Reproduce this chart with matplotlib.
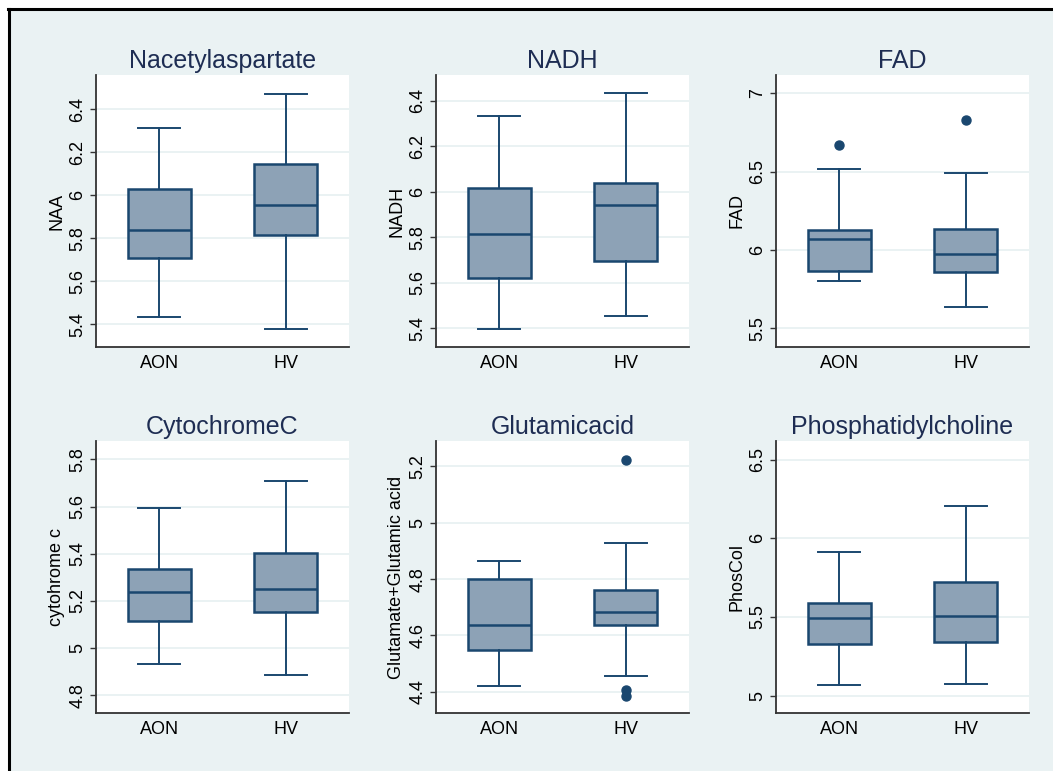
import matplotlib
matplotlib.use("Agg")
import matplotlib.pyplot as plt
from matplotlib.patches import Rectangle
from matplotlib.lines import Line2D

plt.rcParams['font.family'] = ['Liberation Sans', 'DejaVu Sans']

groups = ["AON", "HV"]

titles = ["Nacetylaspartate", "NADH", "FAD",
          "CytochromeC", "Glutamicacid", "Phosphatidylcholine"]
ylabels = ["NAA", "NADH", "FAD", "cytohrome c", "Glutamate+Glutamic acid", "PhosCol"]

# per panel: [AON, HV] -> (whislo, q1, med, q3, whishi)
naa = [(5.435, 5.709, 5.837, 6.028, 6.313), (5.380, 5.815, 5.956, 6.146, 6.471)]
nadh = [(5.398, 5.621, 5.816, 6.019, 6.334), (5.454, 5.695, 5.944, 6.041, 6.434)]
fad = [(5.804, 5.864, 6.068, 6.128, 6.517), (5.634, 5.862, 5.972, 6.136, 6.491)]
cytc = [(4.933, 5.117, 5.240, 5.335, 5.593), (4.886, 5.154, 5.252, 5.403, 5.708)]
glu = [(4.421, 4.550, 4.636, 4.800, 4.864), (4.457, 4.636, 4.683, 4.760, 4.927)]
phos = [(5.069, 5.328, 5.496, 5.592, 5.911), (5.073, 5.339, 5.508, 5.725, 6.203)]

fad_out = [[6.672], [6.830]]
glu_out = [[], [5.224, 4.408, 4.387]]
no_out = [[], []]

yticks = [[5.4, 5.6, 5.8, 6.0, 6.2, 6.4],
          [5.4, 5.6, 5.8, 6.0, 6.2, 6.4],
          [5.5, 6.0, 6.5, 7.0],
          [4.8, 5.0, 5.2, 5.4, 5.6, 5.8],
          [4.4, 4.6, 4.8, 5.0, 5.2],
          [5.0, 5.5, 6.0, 6.5]]
yticklabels = [["5.4", "5.6", "5.8", "6", "6.2", "6.4"],
               ["5.4", "5.6", "5.8", "6", "6.2", "6.4"],
               ["5.5", "6", "6.5", "7"],
               ["4.8", "5", "5.2", "5.4", "5.6", "5.8"],
               ["4.4", "4.6", "4.8", "5", "5.2"],
               ["5", "5.5", "6", "6.5"]]
ylims = [(5.295, 6.558), (5.318, 6.514), (5.381, 7.117),
         (4.725, 5.878), (4.325, 5.290), (4.890, 6.619)]

data = [naa, nadh, fad, cytc, glu, phos]
outliers = [no_out, no_out, fad_out, no_out, glu_out, no_out]

bg = "#EAF2F3"
edge = "#1A476F"
fill = "#8DA2B6"
W, H = 1053, 771

fig = plt.figure(figsize=(W / 100, H / 100), dpi=100, facecolor="white")
fig.add_artist(Rectangle((9 / W, 0), 1, 1 - 9 / H, transform=fig.transFigure,
                         facecolor=bg, edgecolor="none", zorder=0))
fig.add_artist(Line2D([8 / W, 1], [1 - 9 / H, 1 - 9 / H], transform=fig.transFigure,
                      color="black", lw=2.2))
fig.add_artist(Line2D([9 / W, 9 / W], [0, 1 - 9 / H], transform=fig.transFigure,
                      color="black", lw=2.2))

lefts = [96, 436, 776]
tops = [75, 441]
pw, ph = 253, 272

for i in range(6):
    r, c = divmod(i, 3)
    x0 = lefts[c]
    y0 = tops[r]
    ax = fig.add_axes([x0 / W, 1 - (y0 + ph) / H, pw / W, ph / H])
    ax.set_facecolor("white")
    stats = []
    for g, s, fl in zip(groups, data[i], outliers[i]):
        stats.append(dict(label=g, whislo=s[0], q1=s[1], med=s[2], q3=s[3],
                          whishi=s[4], fliers=fl))
    ax.bxp(stats, positions=[1, 2], widths=0.5, patch_artist=True,
           boxprops=dict(facecolor=fill, edgecolor=edge, linewidth=1.8),
           medianprops=dict(color=edge, linewidth=1.8),
           whiskerprops=dict(color=edge, linewidth=1.4),
           capprops=dict(color=edge, linewidth=1.4),
           capwidths=0.33,
           flierprops=dict(marker="o", markerfacecolor=edge, markeredgecolor=edge,
                           markersize=6.5))
    ax.set_xlim(0.5, 2.5)
    ax.set_ylim(*ylims[i])
    ax.set_yticks(yticks[i])
    ax.set_yticklabels(yticklabels[i], rotation=90, va="center", fontsize=13)
    ax.set_xticks([1, 2])
    ax.set_xticklabels(groups, fontsize=13)
    ax.tick_params(axis="x", length=0, pad=6)
    ax.tick_params(axis="y", length=4, width=1, color="#333333", pad=3)
    ax.yaxis.grid(True, color=bg, linewidth=1.4)
    ax.set_axisbelow(True)
    for sp in ["top", "right"]:
        ax.spines[sp].set_visible(False)
    for sp in ["left", "bottom"]:
        ax.spines[sp].set_color("#333333")
        ax.spines[sp].set_linewidth(1.3)
    ax.set_ylabel(ylabels[i], fontsize=13, labelpad=3)
    ax.set_title(titles[i], fontsize=18, color="#1E2D53", pad=5)

fig.savefig("out.png", dpi=100, facecolor="white")
